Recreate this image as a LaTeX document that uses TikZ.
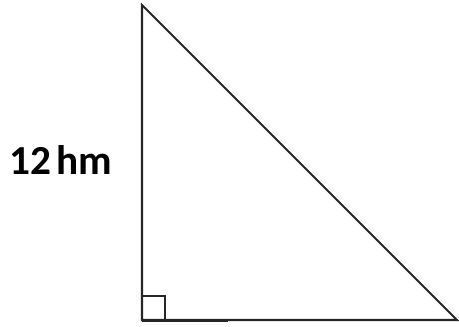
\documentclass[tikz,border=0pt]{standalone}
\usepackage{fontspec}
\setmainfont{Carlito}
\usetikzlibrary{positioning}
\begin{document}
\begin{tikzpicture}[x=0.02cm,y=0.02cm]
\tikzset{side/.style={line width=1.2pt, black!85}}
\useasboundingbox (0,0) rectangle (459,326);
\coordinate (a) at (142,321);
\coordinate (b) at (142,6);
\coordinate (c) at (457,6);
\coordinate (s1) at (142,30);
\coordinate (s2) at (165,30);
\coordinate (s3) at (165,6);
\coordinate (e) at (228,6);
\draw[side, line join=miter] (a) -- (b) -- (c) -- cycle;
\draw[side, line width=1.7pt] (b) -- (e);
\draw[side, line width=1pt] (s1) -- (s2) -- (s3);
\node[font=\bfseries\fontsize{23.5}{27}\selectfont, inner sep=0pt] (len) at (61,166) {12\kern0.12em hm};
\end{tikzpicture}
\end{document}
